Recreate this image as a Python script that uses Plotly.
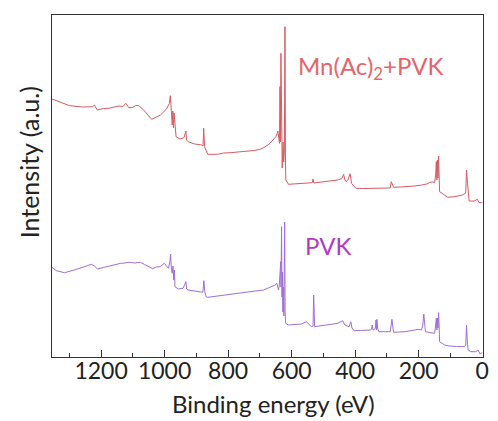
import plotly.graph_objects as go

# Binding energy (eV) and intensity (a.u.)
mn_energy = [1355, 1330, 1299, 1258, 1237, 1227, 1221, 1212, 1193, 1175, 1159, 1144, 1131, 1122, 1113,
             1103, 1091, 1081, 1066, 1053, 1041, 1026, 1013, 994, 985, 982, 979, 976, 974, 972, 970,
             967, 964, 952, 939, 933, 931, 926, 905, 883, 879, 877, 874, 870, 864, 833, 814, 793,
             771, 740, 718, 699, 684, 668, 656, 650, 645, 643.5, 640.4, 638.2, 636.8, 635.5, 633.7,
             632.5, 631.5, 629.8, 627, 625, 623, 621, 619.5, 618.5, 610, 579, 553, 535, 532.6, 530,
             498, 476, 455, 442, 436.3, 433.2, 429, 423, 415.8, 411.5, 398, 376, 351.5, 320.5, 305,
             289.5, 286.3, 279, 258, 233, 212, 191, 174.5, 165, 156, 150, 146.6, 144.5, 142.6, 141,
             139.4, 137.3, 135.7, 134.2, 118.6, 109.3, 87.6, 61.8, 51.9, 49.4, 46.3, 41, 25.5, 15.2,
             9.9, 0]
mn_intensity = [258, 255.3, 251.3, 250, 250.5, 250.3, 252, 247, 248.5, 248.7, 250, 251, 250.5, 253.7, 249.5,
                249.3, 251.5, 251.3, 247, 242, 237.7, 240, 242, 248, 253.7, 261.3, 247, 232, 246, 229, 244,
                228, 220.3, 218, 219.3, 226, 217, 215.3, 213, 212, 211, 228.7, 210.3, 207, 202.7, 202.7, 204, 204.3,
                205, 205.3, 206.5, 207.7, 210, 213.7, 217.5, 220.3, 224, 226, 219, 213.7, 270.3, 215, 303.7,
                240, 303.7, 189, 215, 195, 205, 330.3, 200, 177, 172.7, 173.3, 173.5, 174.3, 178, 174,
                175.3, 176, 177, 178.5, 182.7, 178, 175.3, 177, 183.3, 173.7, 168.7, 168.5, 168.7, 169.3, 168.7,
                169, 175.3, 169.7, 170, 170.3, 171, 172, 173, 174.7, 175, 174.3, 182, 195.3, 177, 197,
                179, 201, 182, 165.3, 162, 159.7, 160.3, 162, 164, 187, 173.7, 156, 156, 157.7,
                154.3, 154.3]

pvk_energy = [1355, 1341, 1315, 1299, 1277, 1255, 1231, 1221, 1211, 1193, 1174, 1155, 1138, 1125, 1112,
              1094, 1076, 1063, 1050, 1038, 1026, 1014, 1001, 988, 983.6, 981.2, 979, 976, 973.7, 971.2,
              969, 967.4, 957, 942, 933, 930.7, 926, 900, 879.5, 876.4, 873.3, 869.3, 864, 833, 811,
              792, 771, 740, 715, 688, 671, 659, 652, 646.6, 641.3, 638.9, 636.4, 634.5, 633.5, 631.8,
              630.5, 629, 627.5, 626, 624.5, 622, 620.5, 619, 610.3, 590.7, 569, 553.4, 538, 532.6,
              530.7, 527.6, 513, 496.6, 476, 455, 439.4, 432.3, 419, 413.7, 410, 403.4, 382.6, 367,
              351.5, 348.4, 346.3, 343.8, 341.3, 336, 334.5, 333, 331.5, 329.3, 325.8, 305, 289.5, 284.2,
              279.2, 261.5, 243, 221, 201.6, 191, 187, 183.9, 178.6, 165.4, 149.7, 146.6, 144.4, 142.6,
              141, 139.4, 137.3, 135.7, 134.2, 118.6, 103, 81.4, 56.5, 51.9, 49.4, 47.2, 44.1, 35.7,
              20.2, 13, 6.8, 0]
pvk_intensity = [89.7, 86.3, 84.3, 85.5, 87.7, 90, 92.7, 91, 88, 89.5, 91, 93, 93.7, 94, 94.7,
                 94, 94.7, 92.5, 90.3, 88.3, 90, 90.3, 93.7, 88.7, 95, 103, 89, 83.7, 91, 77,
                 87, 70.3, 68, 68.7, 75.3, 68, 67, 66, 64.7, 76.3, 65, 60.3, 59.7, 61, 62,
                 63, 64, 65.3, 66, 67, 69, 71, 72, 73.7, 67, 72, 82, 95.3, 70, 130.3,
                 60, 85, 45, 70, 41, 135, 45, 33.7, 32, 32.5, 33, 35.3, 30.3, 31,
                 62, 30.3, 31, 31.3, 32.5, 33.7, 36.3, 32, 30.3, 35.3, 29, 26.3, 26.5, 27,
                 27, 28, 32, 27, 27, 29, 37, 27, 37.7, 29, 25.3, 25.3, 25.3, 37.7,
                 24.7, 25, 25.3, 26.5, 27.7, 27, 32, 43, 25.3, 24.5, 23.7, 32, 38.7, 27,
                 39, 29, 44.3, 32, 15.3, 12, 11, 10.5, 10.3, 12, 32, 17, 7, 5.3,
                 5.3, 7, 3, 4.3]

x_ticks = [1200, 1000, 800, 600, 400, 200, 0]
series_labels = ["Mn(Ac)<sub>2</sub>+PVK", "PVK"]

FONT = "Lato"

fig = go.Figure()
fig.add_trace(go.Scatter(x=mn_energy, y=mn_intensity, mode="lines",
                         line=dict(color="#d65c62", width=1), showlegend=False))
fig.add_trace(go.Scatter(x=pvk_energy, y=pvk_intensity, mode="lines",
                         line=dict(color="#a06ed8", width=1), showlegend=False))

fig.update_layout(
    width=498, height=421,
    margin=dict(l=52, r=9, t=15, b=64),
    paper_bgcolor="white", plot_bgcolor="white",
    font=dict(family=FONT, size=24, color="#222222"),
    showlegend=False,
)

fig.update_xaxes(
    range=[1354.6, -2.5], tickvals=x_ticks, ticktext=[str(v) for v in x_ticks],
    ticks="inside", ticklen=7, tickwidth=1, tickcolor="#333333",
    minor=dict(dtick=100, tick0=0, ticks="inside", ticklen=4, tickwidth=1, tickcolor="#333333"),
    showline=True, linecolor="#333333", linewidth=1, mirror=True,
    showgrid=False, zeroline=False, ticklabelstandoff=-7,
    tickfont=dict(family=FONT, size=23, color="#222222"),
)
fig.update_yaxes(
    range=[0, 342], showticklabels=False, ticks="",
    showline=True, linecolor="#333333", linewidth=1, mirror=True,
    showgrid=False, zeroline=False,
)

fig.add_annotation(text=series_labels[0], xref="paper", yref="paper",
                   x=(299 - 52) / 437, y=(357 - 67) / 342, xanchor="left", yanchor="middle",
                   showarrow=False, font=dict(family=FONT, size=24, color="#e8646b"))
fig.add_annotation(text=series_labels[1], xref="paper", yref="paper",
                   x=(307 - 52) / 437, y=(357 - 245) / 342, xanchor="left", yanchor="middle",
                   showarrow=False, font=dict(family=FONT, size=24, color="#b23cc0"))
fig.add_annotation(text="Binding energy (eV)", xref="paper", yref="paper",
                   x=(277 - 52) / 437, y=(357 - 403) / 342, xanchor="center", yanchor="middle",
                   showarrow=False, font=dict(family=FONT, size=24, color="#222222"))
fig.add_annotation(text="Intensity (a.u.)", xref="paper", yref="paper",
                   x=(29 - 52) / 437, y=(357 - 162) / 342, xanchor="center", yanchor="middle",
                   textangle=-90, showarrow=False, font=dict(family=FONT, size=25, color="#222222"))

fig.write_html("out.html")
